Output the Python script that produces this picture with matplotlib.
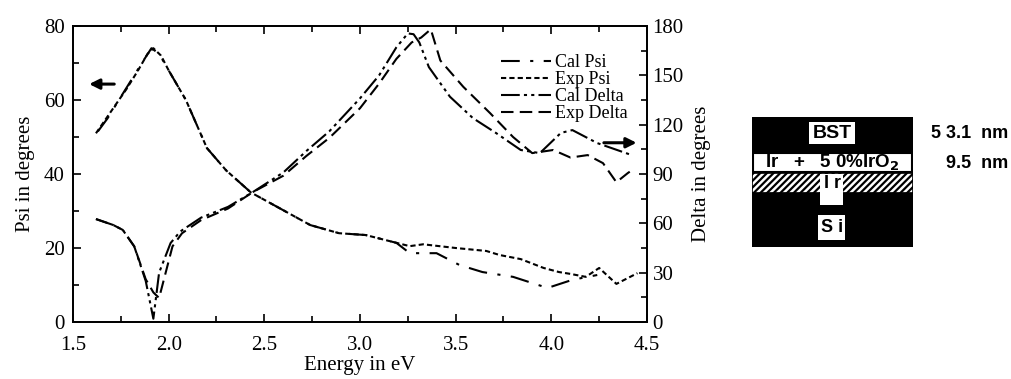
import matplotlib
matplotlib.use("Agg")
from matplotlib import pyplot as plt
from matplotlib.patches import Rectangle
from matplotlib.ticker import MultipleLocator

# Psi curves (left axis, degrees)
cal_psi_x = [1.63, 1.68, 1.74, 1.80, 1.86, 1.91, 1.95, 2.00, 2.09, 2.20, 2.30, 2.43, 2.55,
             2.74, 2.89, 3.03, 3.19, 3.26, 3.34, 3.40, 3.52, 3.64, 3.80, 3.98, 4.11, 4.24]
cal_psi_y = [51.5, 55, 60, 65, 70, 74, 72.5, 68, 60, 47, 41, 35, 31.6,
             26.2, 24, 23.5, 21.4, 18.6, 18.6, 18.6, 15.4, 13.5, 12.2, 9.2, 11.4, 12.7]

exp_psi_x = [1.62, 1.66, 1.72, 1.78, 1.84, 1.89, 1.92, 1.96, 2.00, 2.09, 2.20, 2.30, 2.43,
             2.55, 2.74, 2.89, 3.03, 3.19, 3.26, 3.33, 3.50, 3.66, 3.73, 3.84, 3.96, 4.04,
             4.10, 4.18, 4.25, 4.34, 4.45]
exp_psi_y = [51, 54, 58.5, 63, 68, 72.5, 74, 72, 68, 60, 47, 41, 35,
             31.6, 26.2, 24, 23.5, 21.4, 20.5, 21, 20, 19.2, 18.1, 17, 14.6, 13.5,
             13, 12.2, 14.6, 10.3, 13.2]

# Delta curves (right axis, degrees)
cal_delta_x = [1.62, 1.71, 1.76, 1.82, 1.88, 1.92, 1.95, 2.01, 2.06, 2.17, 2.31, 2.44, 2.60,
               2.72, 2.84, 3.00, 3.10, 3.19, 3.25, 3.28, 3.31, 3.36, 3.47, 3.59, 3.71, 3.84,
               3.94, 4.05, 4.11, 4.24, 4.42]
cal_delta_y = [62.6, 59, 56, 46, 25, 2, 30, 48, 55, 63.5, 70, 79, 91,
               104, 116, 136, 150, 167, 175.5, 175, 170, 155, 137, 124, 115, 104.6,
               102.7, 115, 116.7, 108.8, 101.5]

exp_delta_x = [1.62, 1.71, 1.76, 1.82, 1.88, 1.92, 1.95, 2.02, 2.07, 2.17, 2.31, 2.44, 2.60,
               2.72, 2.84, 3.00, 3.10, 3.19, 3.27, 3.32, 3.37, 3.42, 3.54, 3.68, 3.80, 3.90,
               4.01, 4.10, 4.19, 4.27, 4.34, 4.40, 4.43]
exp_delta_y = [62.6, 59, 56, 46, 26, 18, 14.6, 46, 54, 62, 69, 79, 89,
               101, 112, 130, 145, 160, 170, 173, 178, 159, 143, 127, 112.5, 102.7,
               104.6, 100, 101.5, 96.6, 85, 90.6, 93]

layer_names = ["BST", "Ir   +   5 0%IrO$_\\mathbf{2}$", "I r", "S i"]
layer_thickness = ["5 3.1  nm", "9.5  nm"]

plt.rcParams["font.family"] = "Liberation Serif"
plt.rcParams["hatch.linewidth"] = 1.6

fig = plt.figure(figsize=(10.12, 3.79), dpi=100)
ax = fig.add_axes([73 / 1012, 1 - 322 / 379, 574 / 1012, 296 / 379])
ax2 = ax.twinx()

l1, = ax.plot(cal_psi_x, cal_psi_y, color="black", lw=1.5, dashes=(9, 5, 1.5, 5))
l2, = ax.plot(exp_psi_x, exp_psi_y, color="black", lw=1.5, dashes=(2.5, 1.5))
l3, = ax2.plot(cal_delta_x, cal_delta_y, color="black", lw=1.5, dashes=(9, 2, 1.5, 2, 1.5, 2))
l4, = ax2.plot(exp_delta_x, exp_delta_y, color="black", lw=1.5, dashes=(6, 3))

ax.set_xlim(1.5, 4.5)
ax.set_ylim(0, 80)
ax2.set_ylim(0, 180)
ax.xaxis.set_major_locator(MultipleLocator(0.5))
ax.xaxis.set_minor_locator(MultipleLocator(0.25))
ax.yaxis.set_major_locator(MultipleLocator(20))
ax.yaxis.set_minor_locator(MultipleLocator(10))
ax2.yaxis.set_major_locator(MultipleLocator(30))
ax2.yaxis.set_minor_locator(MultipleLocator(15))
ax.set_xticklabels([f"{v:.1f}" for v in ax.get_xticks()])

ax.tick_params(which="both", direction="in", top=True, labelsize=15, width=1.2)
ax.tick_params(which="major", length=6)
ax.tick_params(axis="x", which="major", pad=10)
ax.tick_params(axis="y", which="major", pad=6)
ax.tick_params(which="minor", length=4)
ax2.tick_params(which="both", direction="in", labelsize=15, width=1.2)
ax2.tick_params(which="major", length=6, pad=4)
ax2.tick_params(which="minor", length=4)
for a in (ax, ax2):
    for s in a.spines.values():
        s.set_linewidth(1.3)

ax.set_xlabel("Energy in eV", fontsize=15, labelpad=1)
ax.set_ylabel("Psi in degrees", fontsize=15, labelpad=6)
ax2.set_ylabel("Delta in degrees", fontsize=15, labelpad=6)

# arrows pointing to the axis of each quantity
ax.annotate("", xy=(1.57, 64.3), xytext=(1.73, 64.3),
            arrowprops=dict(arrowstyle="-|>,head_length=0.6,head_width=0.3", color="black", lw=2.2))
ax2.annotate("", xy=(4.46, 109), xytext=(4.26, 109),
             arrowprops=dict(arrowstyle="-|>,head_length=0.6,head_width=0.3", color="black", lw=2.2))

ax2.legend([l1, l2, l3, l4], ["Cal Psi", "Exp Psi", "Cal Delta", "Exp Delta"],
           loc="upper left", bbox_to_anchor=(0.745, 0.905), frameon=False, fontsize=13,
           handlelength=2.8, handletextpad=0.2, labelspacing=0.0, borderpad=0, borderaxespad=0)

# layer stack schematic
ins = fig.add_axes([752 / 1012, 1 - 247 / 379, 161 / 1012, 130 / 379])
ins.set_xlim(0, 161)
ins.set_ylim(130, 0)
ins.axis("off")
ins.add_patch(Rectangle((0, 0), 161, 35, facecolor="black", edgecolor="black"))
ins.add_patch(Rectangle((1, 36), 159, 19, facecolor="white", edgecolor="black", lw=1.5))
ins.add_patch(Rectangle((0, 56), 161, 20, facecolor="white", edgecolor="black", hatch="/////", lw=1.2))
ins.add_patch(Rectangle((0, 76), 161, 54, facecolor="black", edgecolor="black"))
ins.add_patch(Rectangle((57, 5), 46, 22, facecolor="white", edgecolor="none"))
ins.add_patch(Rectangle((68, 57), 23, 31, facecolor="white", edgecolor="none"))
ins.add_patch(Rectangle((66, 98), 27, 25, facecolor="white", edgecolor="none"))
sans = dict(family="Liberation Sans", fontweight="bold", color="black")
ins.text(80, 16, layer_names[0], ha="center", va="center", fontsize=14, **sans)
ins.text(80, 45.5, layer_names[1], ha="center", va="center", fontsize=13.5, **sans)
ins.text(80, 66, layer_names[2], ha="center", va="center", fontsize=13, **sans)
ins.text(80, 111, layer_names[3], ha="center", va="center", fontsize=13, **sans)
fig.text(1008 / 1012, 1 - 134 / 379, layer_thickness[0], ha="right", va="center", fontsize=13, **sans)
fig.text(1008 / 1012, 1 - 164 / 379, layer_thickness[1], ha="right", va="center", fontsize=13, **sans)

fig.savefig("out.png", dpi=100)
